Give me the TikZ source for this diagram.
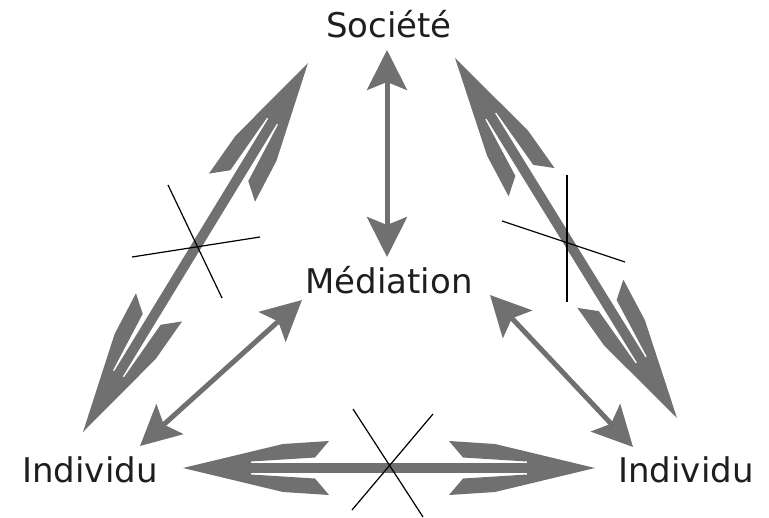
\documentclass[tikz,border=0pt]{standalone}
\usepackage{fontspec}
\setmainfont{DejaVu Sans}
\usepackage{xcolor}
\usetikzlibrary{arrows.meta,decorations.markings}
\definecolor{arrgray}{RGB}{112,112,112}
\definecolor{txtgray}{RGB}{30,30,30}
% wide feathered head, tip at origin, pointing along +x
\newcommand\bighead[1][]{\fill[arrgray,#1] (0,0) -- (-100,24) -- (-146,27) -- (-132,10.5) -- (-68,6.5)
  -- (-68,-6.5) -- (-132,-10.5) -- (-146,-27) -- (-100,-24) -- cycle;}

\begin{document}
\begin{tikzpicture}[
  x=0.5pt,y=-0.5pt,
  lbl/.style={font=\fontsize{17}{20}\selectfont,text=txtgray,inner sep=0pt,anchor=base},
  link/.style={draw=arrgray,line width=2.5pt,{Stealth[length=20pt,width=20pt,inset=4pt]}-{Stealth[length=20pt,width=20pt,inset=4pt]}},
  blocked/.style={draw=arrgray,line width=5pt,shorten >=15pt,shorten <=15pt,
    postaction={decorate,decoration={markings,
      mark=at position 0 with {\bighead[rotate=180]},
      mark=at position 1 with {\bighead}}}},
  cut/.style={draw=black,line width=0.6pt}
]
\useasboundingbox (0,0) rectangle (769,518);
\node[lbl] (soc) at (389,38) {Société};
\node[lbl] (med) at (389,293) {Médiation};
\node[lbl] (indl) at (90,482) {Individu};
\node[lbl] (indr) at (686,482) {Individu};
% arrow ends
\coordinate (socM) at (387,50);
\coordinate (medS) at (387,257);
\coordinate (medL) at (302,300);
\coordinate (indlM) at (140,446);
\coordinate (medR) at (490,295);
\coordinate (indrM) at (633,447);
\coordinate (socL) at (308,63);
\coordinate (indlS) at (83,432);
\coordinate (socR) at (455,58);
\coordinate (indrS) at (677,418);
\coordinate (indlR) at (183,468);
\coordinate (indrL) at (595,468);
% mediated links
\draw[link] (socM) -- (medS);
\draw[link] (medL) -- (indlM);
\draw[link] (medR) -- (indrM);
% direct links, crossed out
\draw[blocked] (socL) -- (indlS);
\draw[blocked] (socR) -- (indrS);
\draw[blocked] (indlR) -- (indrL);
\draw[cut] (132,257) -- (260,237);
\draw[cut] (168,185) -- (222,298);
\draw[cut] (567,175) -- (567,302);
\draw[cut] (502,221) -- (625,262);
\draw[cut] (353,409) -- (423,517);
\draw[cut] (433,414) -- (352,510);
\end{tikzpicture}
\end{document}
